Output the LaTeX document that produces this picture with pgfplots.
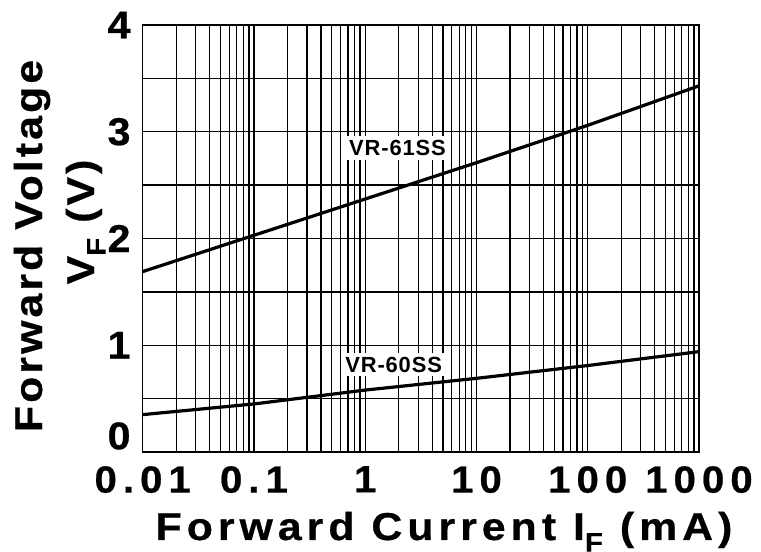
\documentclass[border=0pt]{standalone}
\usepackage{fontspec}
\setmainfont{Liberation Sans}
\newfontfamily\xlabfont{Liberation Sans}[LetterSpace=13, FakeStretch=1.1, FakeBold=0.6]
\newfontfamily\ylabfont{Liberation Sans}[LetterSpace=8, FakeStretch=1.1, FakeBold=0.6]
\newfontfamily\tickfont{Liberation Sans}[LetterSpace=16, FakeStretch=1.06, FakeBold=0.6]
\newfontfamily\curvefont{Liberation Sans}[LetterSpace=4]
\usepackage{pgfplots}
\pgfplotsset{compat=1.18}
\begin{document}
\begin{tikzpicture}[x=1bp,y=1bp]
\useasboundingbox (0,0) rectangle (761,552);
\begin{axis}[
  at={(142.7bp,100bp)}, anchor=south west,
  scale only axis, width=556.3bp, height=427bp,
  xmode=log, log basis x=10,
  xmin=0.01, xmax=1000, ymin=0, ymax=4,
  xtick={0.01,0.1,1,10,100,1000},
  xticklabels={0.01,0.1,1,10,100,1000},
  minor xtick={0.02,0.03,0.04,0.05,0.06,0.07,0.08,0.09,
               0.2,0.3,0.4,0.5,0.6,0.7,0.8,0.9,
               2,3,4,5,6,7,8,9,
               20,30,40,50,60,70,80,90,
               200,300,400,500,600,700,800,900},
  ytick={0,1,2,3,4},
  yticklabels={\raisebox{16bp}[\height][\depth]{0},1,2,3,4},
  minor ytick={0.5,1.5,2.5,3.5},
  grid=both,
  major grid style={black, line width=1.3bp},
  minor grid style={black, line width=1.3bp},
  axis line style={black, line width=1.5bp},
  major tick style={draw=none}, minor tick style={draw=none},
  xticklabel style={font=\tickfont\bfseries\fontsize{38}{38}\selectfont, inner sep=0pt, yshift=-14bp},
  yticklabel style={font=\tickfont\bfseries\fontsize{39}{39}\selectfont, inner sep=0pt, xshift=-12bp},
  clip=false,
]
\addplot[black, line width=3.2bp] coordinates {
  (0.01,1.69) (0.1,2.03) (1,2.37) (10,2.71) (100,3.06) (1000,3.43)
};
\addplot[black, line width=3.2bp] coordinates {
  (0.01,0.35) (0.1,0.45) (1,0.58) (10,0.69) (100,0.81) (1000,0.94)
};
\node[fill=white, inner xsep=2bp, inner ysep=4bp, font=\curvefont\bfseries\fontsize{22}{22}\selectfont] at (axis cs:1.95,2.85) {VR-61SS};
\node[fill=white, inner xsep=2bp, inner ysep=4bp, font=\curvefont\bfseries\fontsize{22}{22}\selectfont] at (axis cs:1.8,0.82) {VR-60SS};
\end{axis}
\node[rotate=90, anchor=base, inner sep=0pt, font=\ylabfont\bfseries\fontsize{39}{39}\selectfont] at (42,306) {Forward Voltage};
\node[rotate=90, anchor=base, inner sep=0pt, font=\ylabfont\bfseries\fontsize{39}{39}\selectfont] at (94,330) {V\raisebox{-0.3em}{\fontsize{27}{27}\selectfont F} (V)};
\node[anchor=base, inner sep=0pt, font=\xlabfont\bfseries\fontsize{39}{39}\selectfont] at (444,12) {Forward Current I\raisebox{-0.3em}{\fontsize{27}{27}\selectfont F} (mA)};
\end{tikzpicture}
\end{document}
